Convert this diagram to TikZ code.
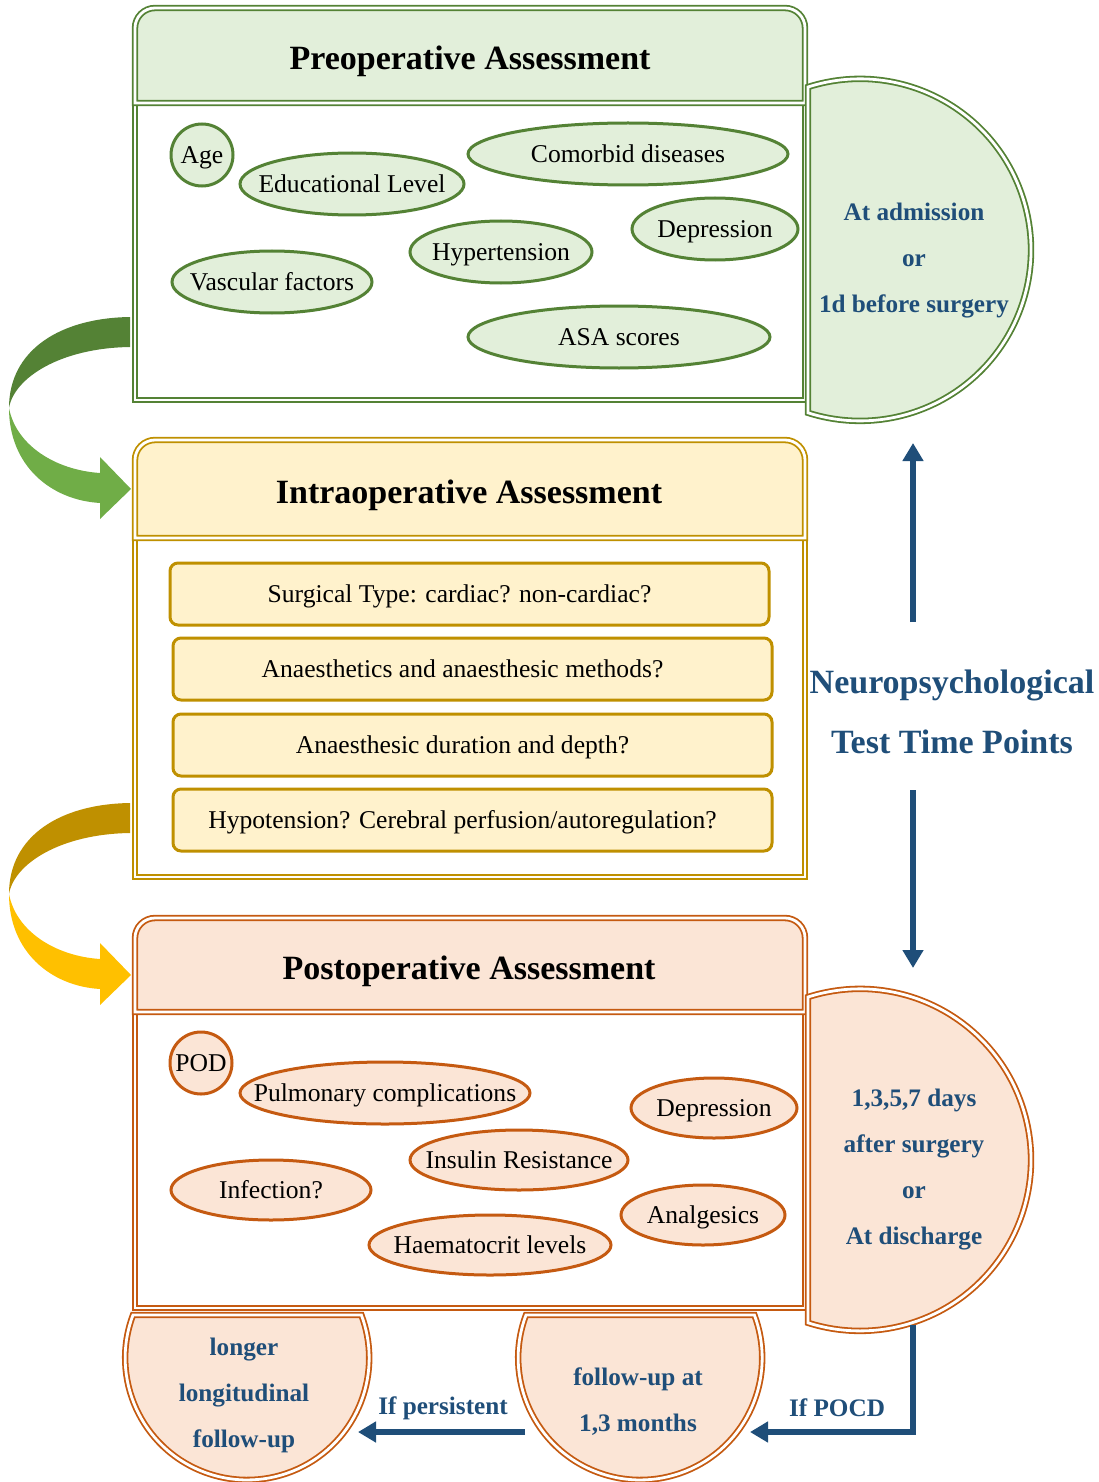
\documentclass[tikz,border=0pt]{standalone}
\usepackage{fontspec}
\setmainfont{Liberation Serif}
\usetikzlibrary{arrows.meta,shapes.geometric}
\definecolor{gD}{HTML}{548235}
\definecolor{gF}{HTML}{E2EFDA}
\definecolor{gL}{HTML}{70AD47}
\definecolor{yD}{HTML}{BF9000}
\definecolor{yF}{HTML}{FFF2CC}
\definecolor{yL}{HTML}{FFC000}
\definecolor{oD}{HTML}{C55A11}
\definecolor{oF}{HTML}{FBE5D6}
\definecolor{bT}{HTML}{1F4E79}
\newcommand{\etx}[1]{\makebox[0pt][c]{\smash{\raisebox{-4.3pt}{#1}}}}
\newcommand{\ibt}[1]{\makebox[0pt][c]{\hspace{-10pt}\smash{\raisebox{-4.3pt}{#1}}}}
\begin{document}
\begin{tikzpicture}[x=0.5pt,y=-0.5pt,
  dbl/.style={draw=#1,line width=0.9pt,double=white,double distance=1.4pt},
  ttl/.style={font=\fontsize{17}{20}\selectfont\bfseries,text=black},
  bl/.style={font=\fontsize{12.6}{23}\selectfont\bfseries,text=bT,align=center},
  ell/.style={ellipse,draw=#1,line width=1.5pt,inner sep=0pt,font=\fontsize{12.8}{15}\selectfont},
  gell/.style={ell=gD,fill=gF},
  oell/.style={ell=oD,fill=oF},
  ibox/.style={rectangle,draw=yD,fill=yF,line width=1.5pt,rounded corners=4pt,minimum width=299.5pt,minimum height=31pt,inner sep=0pt,font=\fontsize{12.8}{15}\selectfont},
  barrow/.style={draw=bT,line width=3pt,-{Triangle[length=9pt,width=10pt]}}]
\useasboundingbox (0,0) rectangle (1098,1482);

% ===== Preoperative =====
\path[fill=white,dbl=gD] (135,103) rectangle (805,400);
\path[fill=gF,dbl=gD] (135,103) -- (135,28) arc[start angle=180,end angle=90,radius=10pt] -- (785,8) arc[start angle=90,end angle=0,radius=10pt] -- (805,103) -- cycle;
\node[ttl] (preT) at (470,61) {Preoperative Assessment};
\path[fill=gF,dbl=gD] (808,87) arc[start angle=107.7,end angle=-107.7,radius=85.5pt] -- cycle;
\node[bl] (preTime) at (914,261) {At admission\\or\\1d before surgery};

\node[gell,minimum width=31pt,minimum height=31pt] (age) at (202,155) {\etx{Age}};
\node[gell,minimum width=112pt,minimum height=31pt] (edu) at (352,184) {\etx{Educational Level}};
\node[gell,minimum width=160pt,minimum height=31pt] (com) at (628,154) {\etx{Comorbid diseases}};
\node[gell,minimum width=83pt,minimum height=31pt] (dep) at (715,229) {\etx{Depression}};
\node[gell,minimum width=91pt,minimum height=31pt] (hyp) at (501,252) {\etx{Hypertension}};
\node[gell,minimum width=100pt,minimum height=31pt] (vas) at (272,282) {\etx{Vascular factors}};
\node[gell,minimum width=151pt,minimum height=31pt] (asa) at (619,337) {\etx{ASA scores}};

% ===== Intraoperative =====
\path[fill=white,dbl=yD] (135,538) rectangle (805,877);
\path[fill=yF,dbl=yD] (135,538) -- (135,460) arc[start angle=180,end angle=90,radius=10pt] -- (785,440) arc[start angle=90,end angle=0,radius=10pt] -- (805,538) -- cycle;
\node[ttl] (intT) at (469,495) {Intraoperative Assessment};
\node[ibox] (s1) at (469.5,594) {\ibt{Surgical Type: cardiac? non-cardiac?}};
\node[ibox] (s2) at (472.5,669) {\ibt{Anaesthetics and anaesthesic methods?}};
\node[ibox] (s3) at (472.5,745) {\ibt{Anaesthesic duration and depth?}};
\node[ibox] (s4) at (472.5,820) {\ibt{Hypotension? Cerebral perfusion/autoregulation?}};

% ===== Postoperative =====
\path[fill=white,dbl=oD] (135,1012) rectangle (805,1308);
\path[fill=oF,dbl=oD] (135,1012) -- (135,938) arc[start angle=180,end angle=90,radius=10pt] -- (785,918) arc[start angle=90,end angle=0,radius=10pt] -- (805,1012) -- cycle;
\node[ttl] (posT) at (469,971) {Postoperative Assessment};
\path[fill=oF,dbl=oD] (808,997) arc[start angle=107.7,end angle=-107.7,radius=85.5pt] -- cycle;
\node[bl] (posTime) at (914,1170) {1,3,5,7 days\\after surgery\\or\\At discharge};

\node[oell,minimum width=31pt,minimum height=31pt] (pod) at (201,1063) {\etx{POD}};
\node[oell,minimum width=145pt,minimum height=31pt] (pul) at (385,1093) {\etx{Pulmonary complications}};
\node[oell,minimum width=83pt,minimum height=30pt] (dep2) at (714,1108) {\etx{Depression}};
\node[oell,minimum width=109pt,minimum height=30pt] (ins) at (519,1160) {\etx{Insulin Resistance}};
\node[oell,minimum width=100pt,minimum height=30pt] (inf) at (271,1190) {\etx{Infection?}};
\node[oell,minimum width=82pt,minimum height=30pt] (ana) at (703,1215) {\etx{Analgesics}};
\node[oell,minimum width=121pt,minimum height=30pt] (hae) at (490,1245) {\etx{Haematocrit levels}};

% ===== bottom follow-ups =====
\path[fill=oF,dbl=oD] (133,1315) arc[start angle=159.4,end angle=380.6,radius=61pt] -- cycle;
\node[bl] (longF) at (244,1395) {longer\\longitudinal\\follow-up};
\path[fill=oF,dbl=oD] (526,1315) arc[start angle=159.4,end angle=380.6,radius=61pt] -- cycle;
\node[bl] (follow) at (638,1402) {follow-up at\\1,3 months};

% ===== blue arrows =====
\node[font=\fontsize{17}{30}\selectfont\bfseries,text=bT,align=center] (neuro) at (952,712) {Neuropsychological\\Test Time Points};
\coordinate (upS) at (913,622);
\coordinate (upE) at (913,443);
\coordinate (dnS) at (913,790);
\coordinate (dnE) at (913,968);
\draw[barrow] (upS) -- (upE);
\draw[barrow] (dnS) -- (dnE);
\coordinate (pocdS) at (913,1325);
\coordinate (pocdC) at (913,1432);
\coordinate (pocdE) at (750,1432);
\draw[barrow] (pocdS) -- (pocdC) -- (pocdE);
\node[font=\fontsize{12.6}{15}\selectfont\bfseries,text=bT] (pocdL) at (837,1408) {If POCD};
\coordinate (perS) at (525,1432);
\coordinate (perE) at (358,1432);
\draw[barrow] (perS) -- (perE);
\node[font=\fontsize{12.6}{15}\selectfont\bfseries,text=bT] (perL) at (443,1408) {If persistent};

% ===== curved arrows =====
\fill[gD] (130,317) .. controls (60,318) and (9,350) .. (9,408) .. controls (14,378) and (60,348) .. (130,347) -- cycle;
\fill[gL] (9,408) .. controls (9,465) and (50,500) .. (100,503) -- (100,519) -- (131,489) -- (100,457) -- (100,473) .. controls (55,470) and (16,445) .. (9,408) -- cycle;
\begin{scope}[shift={(0,486)}]
\fill[yD] (130,317) .. controls (60,318) and (9,350) .. (9,408) .. controls (14,378) and (60,348) .. (130,347) -- cycle;
\fill[yL] (9,408) .. controls (9,465) and (50,500) .. (100,503) -- (100,519) -- (131,489) -- (100,457) -- (100,473) .. controls (55,470) and (16,445) .. (9,408) -- cycle;
\end{scope}
\end{tikzpicture}
\end{document}
